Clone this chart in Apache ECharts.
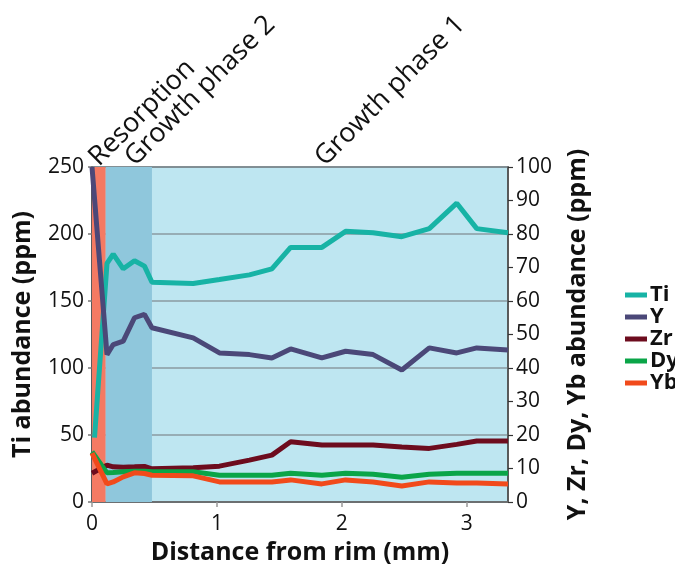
<!DOCTYPE html>
<html>
<head>
<meta charset="utf-8">
<script src="https://cdn.jsdelivr.net/npm/echarts@6/dist/echarts.min.js"></script>
<style>
html,body{margin:0;padding:0;background:#fff;}
#c{width:675px;height:571px;}
</style>
</head>
<body>
<div id="c"></div>
<script>
// Distance from rim (mm)
const distance = [0, 0.02, 0.12, 0.17, 0.25, 0.34, 0.42, 0.48, 0.81, 1.02, 1.26, 1.44, 1.59, 1.84, 2.03, 2.25, 2.48, 2.70, 2.92, 3.08, 3.33];
// Ti (left axis, ppm)
const ti = [null, 48, 178, 185, 174, 180, 176, 164, 163, 166, 169.5, 174, 190, 190, 202, 201, 198, 204, 223, 204, 201];
// Right axis (ppm)
const yEl = [100, null, 44, 47, 48, 55, 56, 52, 49, 44.5, 44, 43, 45.7, 43, 45, 44, 39.4, 46, 44.5, 46, 45.4];
const zr = [8.6, null, 11, 10.5, 10.4, 10.5, 10.6, 9.9, 10.2, 10.7, 12.5, 14, 18, 17, 17, 17, 16.4, 16, 17.2, 18.2, 18.2];
const dy = [15, null, 8.7, 8.8, 9, 9.2, 9.2, 9, 9, 8, 8, 8, 8.6, 8, 8.6, 8.3, 7.4, 8.3, 8.6, 8.6, 8.6];
const yb = [14.6, null, 5.4, 6, 7.5, 8.7, 8.5, 8, 7.8, 6, 6, 6, 6.6, 5.4, 6.6, 6, 4.8, 6, 5.7, 5.7, 5.4];

const seriesNames = ['Ti', 'Y', 'Zr', 'Dy', 'Yb'];
const seriesColors = ['#17b3a5', '#4b4878', '#6d0c1e', '#0aa548', '#f14a1b'];

// Phases (mm)
const phaseNames = ['Resorption', 'Growth phase 2', 'Growth phase 1'];
const phaseStart = [0, 0.11, 0.48];
const phaseEnd = [0.11, 0.48, 3.33];
const phaseColors = ['#f47a63', '#8fc7dc', 'rgba(0,0,0,0)'];
const phaseLabelX = [0, 0.29, 1.81];

const xTicks = [0, 1, 2, 3];

const FONT = '"Open Sans", "Noto Sans", sans-serif';

function pairs(vals) {
  return distance.map((d, i) => [d, vals[i]]);
}

const chart = echarts.init(document.getElementById('c'), null, {renderer: 'canvas'});

const lineSeries = [ti, yEl, zr, dy, yb].map((vals, i) => ({
  name: seriesNames[i],
  type: 'line',
  xAxisIndex: 0,
  yAxisIndex: i === 0 ? 0 : 1,
  data: pairs(vals),
  connectNulls: true,
  showSymbol: false,
  symbol: 'none',
  lineStyle: {width: 5, color: seriesColors[i]},
  itemStyle: {color: seriesColors[i]},
  z: 3 + i
}));

const bandSeries = {
  name: 'bands',
  type: 'line',
  xAxisIndex: 0,
  yAxisIndex: 0,
  data: [],
  z: 1,
  silent: true,
  markArea: {
    silent: true,
    data: phaseStart.map((s, i) => [
      {xAxis: s, itemStyle: {color: phaseColors[i]}},
      {xAxis: phaseEnd[i]}
    ])
  }
};

const option = {
  animation: false,
  backgroundColor: '#ffffff',
  textStyle: {fontFamily: FONT},
  grid: {
    left: 92, right: 167, top: 167, bottom: 69,
    show: true,
    backgroundColor: '#bee6f1',
    borderColor: '#444',
    borderWidth: 1.5
  },
  legend: {
    orient: 'vertical',
    left: 620,
    top: 279,
    itemWidth: 22,
    itemHeight: 5,
    itemGap: 0,
    icon: 'rect',
    data: seriesNames,
    textStyle: {fontFamily: FONT, fontSize: 22, fontWeight: 'bold', color: '#111', lineHeight: 22, padding: [0, 0, 0, -2]}
  },
  xAxis: [{
    type: 'value',
    min: 0,
    max: 3.33,
    interval: 1,
    name: 'Distance from rim (mm)',
    nameLocation: 'middle',
    nameGap: 36,
    nameTextStyle: {fontFamily: FONT, fontSize: 25, fontWeight: 'bold', color: '#111'},
    axisLine: {show: true, lineStyle: {color: '#666', width: 1.5}},
    axisTick: {show: true, length: 5, lineStyle: {color: '#999', width: 1.5}},
    axisLabel: {
      fontFamily: FONT, fontSize: 21, color: '#111', margin: 12,
      showMaxLabel: false,
      formatter: v => (xTicks.indexOf(v) >= 0 ? String(v) : '')
    },
    splitLine: {show: false}
  }],
  yAxis: [{
    type: 'value',
    position: 'left',
    min: 0, max: 250, interval: 50,
    name: 'Ti abundance (ppm)',
    nameLocation: 'middle',
    nameRotate: 90,
    nameGap: 57,
    nameTextStyle: {fontFamily: FONT, fontSize: 25, fontWeight: 'bold', color: '#111'},
    axisLine: {show: true, lineStyle: {color: '#555', width: 1.5}},
    axisTick: {show: true, length: 4, lineStyle: {color: '#777', width: 1.5}},
    axisLabel: {fontFamily: FONT, fontSize: 21, color: '#111', margin: 8},
    splitLine: {show: true, lineStyle: {color: '#8a9aa0', width: 1.5}}
  }, {
    type: 'value',
    position: 'right',
    min: 0, max: 100, interval: 10,
    name: 'Y, Zr, Dy, Yb abundance (ppm)',
    nameLocation: 'middle',
    nameRotate: 90,
    nameGap: 57,
    nameTextStyle: {fontFamily: FONT, fontSize: 25, fontWeight: 'bold', color: '#111'},
    axisLine: {show: true, lineStyle: {color: '#555', width: 1.5}},
    axisTick: {show: true, length: 5, lineStyle: {color: '#333', width: 1.2}},
    axisLabel: {fontFamily: FONT, fontSize: 21, color: '#111', margin: 8},
    splitLine: {show: false}
  }],
  series: [bandSeries].concat(lineSeries)
};

chart.setOption(option);

// Phase labels, anchored through the axes' own scale
const labels = phaseNames.map((name, i) => {
  const p = chart.convertToPixel({xAxisIndex: 0, yAxisIndex: 1}, [phaseLabelX[i], 100]);
  return {
    type: 'text',
    x: p[0] + 11,
    y: p[1] + 4,
    rotation: Math.PI / 4,
    style: {
      text: name,
      fontFamily: FONT,
      fontSize: 27,
      fill: '#111',
      textAlign: 'left',
      textVerticalAlign: 'bottom'
    },
    z: 10
  };
});
chart.setOption({graphic: labels});
</script>
</body>
</html>
